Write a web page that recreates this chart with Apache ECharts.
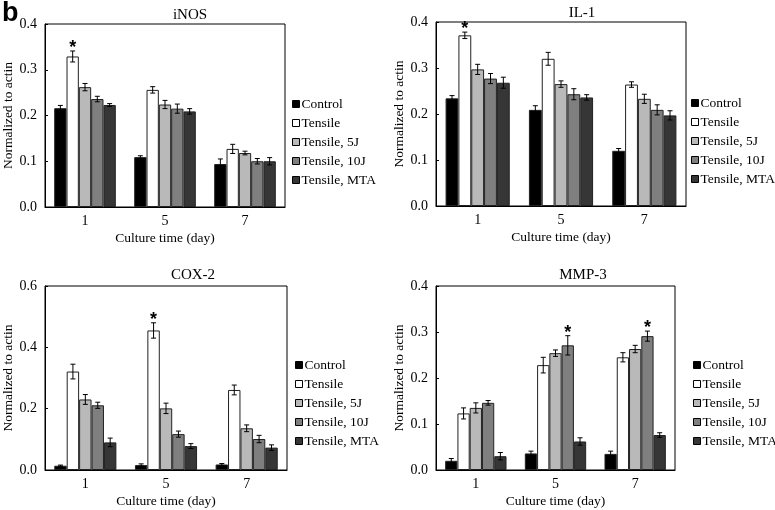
<!DOCTYPE html>
<html>
<head>
<meta charset="utf-8">
<script src="https://cdn.jsdelivr.net/npm/echarts@6/dist/echarts.min.js"></script>
<style>
  html, body { margin: 0; padding: 0; background: #fff; }
  #chart { width: 775px; height: 510px; }
</style>
</head>
<body>
<div id="chart"></div>
<script>
const days = ['1', '5', '7']
const groups = ['Control', 'Tensile', 'Tensile, 5J', 'Tensile, 10J', 'Tensile, MTA']
const colors = ['#000000', '#ffffff', '#b9b9b9', '#7f7f7f', '#363636']

// rows = groups, columns = days
const inosMean = [[0.216, 0.109, 0.094], [0.329, 0.256, 0.127], [0.262, 0.224, 0.118], [0.236, 0.215, 0.100], [0.223, 0.209, 0.100]]
const inosErr = [[0.006, 0.003, 0.011], [0.012, 0.007, 0.010], [0.008, 0.009, 0.004], [0.006, 0.010, 0.006], [0.003, 0.006, 0.008]]
const inosStar = [[1, 0]]

const il1Mean = [[0.234, 0.209, 0.120], [0.371, 0.320, 0.264], [0.297, 0.265, 0.233], [0.277, 0.243, 0.209], [0.268, 0.236, 0.197]]
const il1Err = [[0.006, 0.009, 0.005], [0.007, 0.014, 0.006], [0.011, 0.007, 0.010], [0.011, 0.012, 0.011], [0.012, 0.006, 0.010]]
const il1Star = [[1, 0]]

const coxMean = [[0.014, 0.016, 0.018], [0.321, 0.455, 0.261], [0.230, 0.201, 0.136], [0.211, 0.117, 0.101], [0.090, 0.078, 0.073]]
const coxErr = [[0.002, 0.004, 0.003], [0.024, 0.025, 0.016], [0.016, 0.017, 0.011], [0.010, 0.010, 0.012], [0.014, 0.008, 0.009]]
const coxStar = [[1, 1]]

const mmpMean = [[0.020, 0.036, 0.035], [0.123, 0.228, 0.245], [0.135, 0.254, 0.263], [0.146, 0.271, 0.291], [0.030, 0.062, 0.076]]
const mmpErr = [[0.005, 0.005, 0.006], [0.012, 0.017, 0.010], [0.011, 0.007, 0.008], [0.005, 0.021, 0.011], [0.008, 0.008, 0.005]]
const mmpStar = [[3, 1], [3, 2]]

const font = 'Liberation Serif'
const gapPct = 0.23

const panels = [
  { title: 'iNOS', mean: inosMean, err: inosErr, star: inosStar, max: 0.4, interval: 0.1,
    grid: { left: 44, top: 24, width: 241, height: 183 }, titlePos: [185, 3], legendPos: [287, 92] },
  { title: 'IL-1', mean: il1Mean, err: il1Err, star: il1Star, max: 0.4, interval: 0.1,
    grid: { left: 436, top: 22, width: 250, height: 184 }, titlePos: [577, 1], legendPos: [686, 91] },
  { title: 'COX-2', mean: coxMean, err: coxErr, star: coxStar, max: 0.6, interval: 0.2,
    grid: { left: 45, top: 286, width: 242, height: 184 }, titlePos: [188, 263], legendPos: [290, 353] },
  { title: 'MMP-3', mean: mmpMean, err: mmpErr, star: mmpStar, max: 0.4, interval: 0.1,
    grid: { left: 436, top: 286, width: 239, height: 184 }, titlePos: [578, 263], legendPos: [688, 353] }
]

function renderErr(params, api) {
  let d = api.value(0), g = api.value(1), m = api.value(2), e = api.value(3), s = api.value(4)
  let band = api.size([1, 0])[0]
  let bw = band * (1 - gapPct) / groups.length
  let cx = api.coord([d, m])[0] + (g - 2) * bw
  let top = api.coord([d, m + e])[1]
  let bot = api.coord([d, m - e])[1]
  let cap = 2.5
  let st = { stroke: '#000', lineWidth: 1 }
  let children = [
    { type: 'line', shape: { x1: cx, y1: top, x2: cx, y2: bot }, style: st },
    { type: 'line', shape: { x1: cx - cap, y1: top, x2: cx + cap, y2: top }, style: st },
    { type: 'line', shape: { x1: cx - cap, y1: bot, x2: cx + cap, y2: bot }, style: st }
  ]
  if (s) {
    children.push({
      type: 'text',
      style: { x: cx, y: top + 6, text: '*', fill: '#000', font: 'bold 18px "Liberation Sans"', align: 'center', verticalAlign: 'bottom' }
    })
  }
  return { type: 'group', children }
}

let option = {
  animation: false,
  title: [{ text: 'b', left: 2, top: 0, padding: 0, textStyle: { fontFamily: 'Liberation Sans', fontWeight: 'bold', fontSize: 27, color: '#000' } }],
  legend: [],
  grid: [],
  xAxis: [],
  yAxis: [],
  series: []
}

panels.forEach((p, pi) => {
  option.title.push({
    text: p.title, left: p.titlePos[0], top: p.titlePos[1], textAlign: 'center',
    textStyle: { fontFamily: font, fontWeight: 'normal', fontSize: 15, color: '#000' }
  })
  option.legend.push({
    orient: 'vertical', left: p.legendPos[0], top: p.legendPos[1],
    data: groups, icon: 'rect', itemWidth: 7, itemHeight: 7, itemGap: 5,
    selectedMode: false,
    itemStyle: { borderColor: '#000', borderWidth: 1 },
    textStyle: { fontFamily: font, fontSize: 13.5, color: '#000', lineHeight: 13, padding: [0, 0, 0, -3] }
  })
  option.grid.push({ ...p.grid, show: true, borderColor: '#000', borderWidth: 1, backgroundColor: 'transparent' })
  option.xAxis.push({
    type: 'category', gridIndex: pi, data: days,
    name: 'Culture time (day)', nameLocation: 'middle', nameGap: 24,
    nameTextStyle: { fontFamily: font, fontSize: 13.5, color: '#000' },
    axisLine: { lineStyle: { color: '#000', width: 1 } },
    axisTick: { inside: true, length: 4, lineStyle: { color: '#000' } },
    axisLabel: { fontFamily: font, fontSize: 14, color: '#000', margin: 7 }
  })
  option.yAxis.push({
    type: 'value', gridIndex: pi, min: 0, max: p.max, interval: p.interval,
    name: 'Normalized to actin', nameLocation: 'middle', nameGap: 30,
    nameTextStyle: { fontFamily: font, fontSize: 13.5, color: '#000' },
    axisLine: { show: true, lineStyle: { color: '#000', width: 1 } },
    axisTick: { show: true, inside: true, length: 3, lineStyle: { color: '#000' } },
    splitLine: { show: false },
    axisLabel: { fontFamily: font, fontSize: 14, color: '#000', margin: 8, formatter: v => v.toFixed(1) }
  })
  groups.forEach((g, gi) => {
    option.series.push({
      type: 'bar', name: g, xAxisIndex: pi, yAxisIndex: pi,
      data: p.mean[gi], barGap: '0%', barCategoryGap: (gapPct * 100) + '%',
      itemStyle: { color: colors[gi], borderColor: '#222', borderWidth: 1 },
      emphasis: { disabled: true }
    })
  })
  let errData = []
  groups.forEach((g, gi) => {
    days.forEach((d, di) => {
      let star = p.star.some(s => s[0] === gi && s[1] === di) ? 1 : 0
      errData.push([di, gi, p.mean[gi][di], p.err[gi][di], star])
    })
  })
  option.series.push({
    type: 'custom', xAxisIndex: pi, yAxisIndex: pi, z: 5, clip: false,
    encode: { x: 0, y: 2 }, data: errData, renderItem: renderErr, silent: true
  })
})

let chart = echarts.init(document.getElementById('chart'))
chart.setOption(option)
</script>
</body>
</html>
